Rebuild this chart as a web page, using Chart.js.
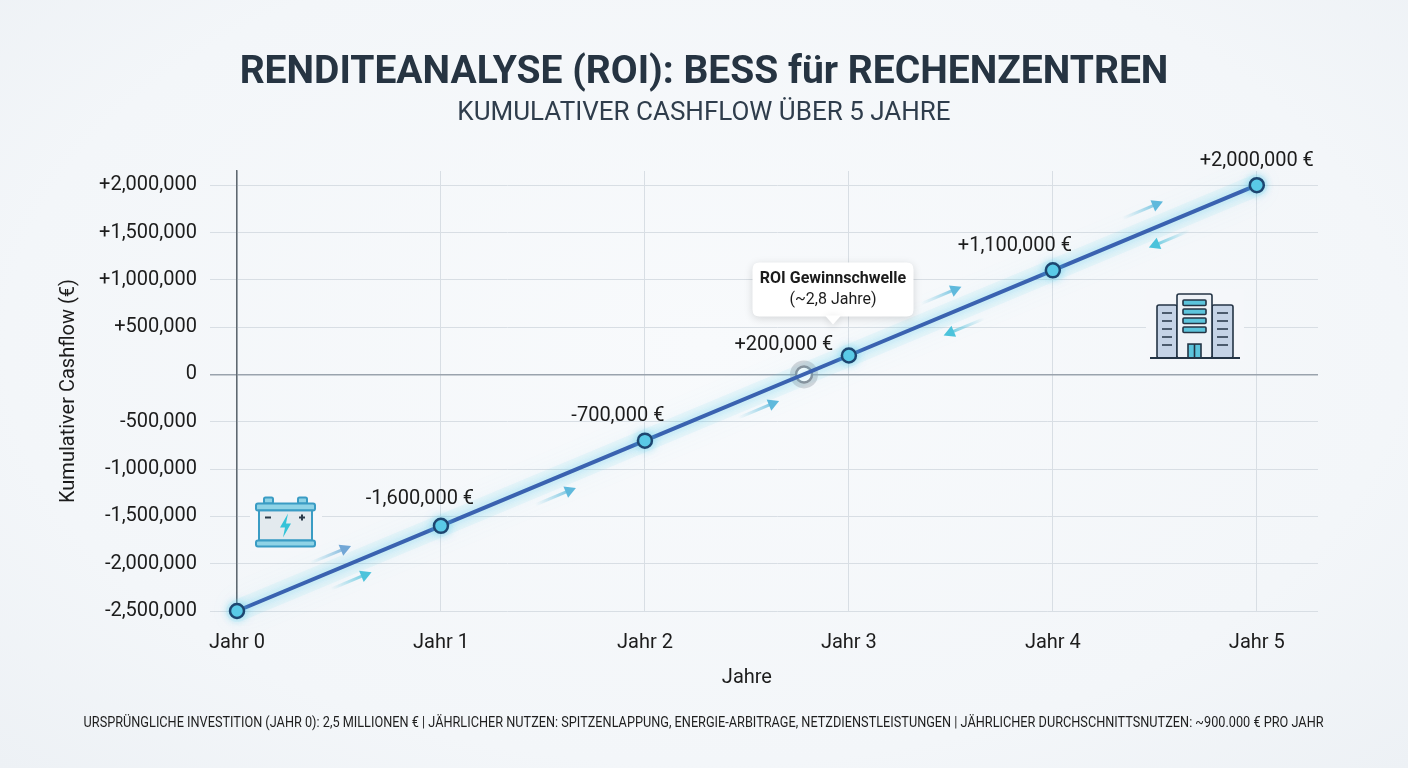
<!DOCTYPE html>
<html>
<head>
<meta charset="utf-8">
<script src="https://cdn.jsdelivr.net/npm/chart.js@4.4.1/dist/chart.umd.min.js"></script>
<style>
  html, body { margin: 0; padding: 0; }
  body {
    width: 1408px; height: 768px; overflow: hidden;
    background: radial-gradient(ellipse at 50% 45%, #f8fafc 0%, #f3f6f9 70%, #edf1f5 100%);
    font-family: Roboto, "Noto Sans", sans-serif;
    position: relative;
  }
  #wrap { position: absolute; left: 0; top: 0; width: 1408px; height: 768px; }
  .head {
    position: absolute; left: 0; width: 1408px; text-align: center; white-space: nowrap;
  }
  #title { top: 46px; font-size: 39px; font-weight: bold; color: #263442; line-height: 48px; }
  #subtitle { top: 95px; font-size: 26px; color: #2f3d4c; line-height: 32px; }
  #footer {
    position: absolute; left: 0; width: 1408px; top: 714px;
    text-align: center; white-space: nowrap;
    font-size: 14px; color: #1e1e1e;
  }
  #footer span { display: inline-block; transform-origin: center; }
</style>
</head>
<body>
<div id="wrap"><canvas id="myChart" width="1408" height="768"></canvas></div>
<div class="head" id="title">RENDITEANALYSE (ROI): BESS für RECHENZENTREN</div>
<div class="head" id="subtitle">KUMULATIVER CASHFLOW ÜBER 5 JAHRE</div>
<div id="footer"><span id="footText">URSPRÜNGLICHE INVESTITION (JAHR 0): 2,5 MILLIONEN € | JÄHRLICHER NUTZEN: SPITZENLAPPUNG, ENERGIE-ARBITRAGE, NETZDIENSTLEISTUNGEN | JÄHRLICHER DURCHSCHNITTSNUTZEN: ~900.000 € PRO JAHR</span></div>
<script>
// values
const years = [0, 1, 2, 3, 4, 5];
const cashflow = [-2500000, -1600000, -700000, 200000, 1100000, 2000000];
const pointLabels = ['', '-1,600,000 €', '-700,000 €', '+200,000 €', '+1,100,000 €', '+2,000,000 €'];
const breakEven = { x: 2.78, y: 0 };
const breakEvenText = ['ROI Gewinnschwelle', '(~2,8 Jahre)'];
const yTicks = [-2500000, -2000000, -1500000, -1000000, -500000, 0, 500000, 1000000, 1500000, 2000000];
const xTitle = 'Jahre';

// label offsets in px (style only)
const labelOffsets = [[0, 0], [-21, -27], [-27, -25], [-65, -11], [-38, -24], [0, -24]];

// decorative arrows along the line: t = year, off = px perpendicular (neg = above), dir
const arrows = [
    { t: 0.49, off: -16, dir: 1, color: '#72a7d6' },
    { t: 0.53, off: 16, dir: 1, color: '#4cc3db' },
    { t: 1.53, off: 17, dir: 1, color: '#5fb9dc' },
    { t: 2.53, off: 15, dir: 1, color: '#5fb9dc' },
    { t: 3.49, off: -20, dir: 1, color: '#5fb9dc' },
    { t: 3.53, off: 18, dir: -1, color: '#4cc3db' },
    { t: 4.48, off: -21, dir: 1, color: '#5fb9dc' },
    { t: 4.54, off: 16, dir: -1, color: '#4cc3db' }
];

const points = years.map((x, i) => ({ x: x, y: cashflow[i] }));

function fmt(v){
    const s = Math.abs(v).toLocaleString('en-US');
    if(v > 0) return '+' + s;
    if(v < 0) return '-' + s;
    return '0';
}

function yAt(t){
    // value on the drawn line at year t (for decoration only)
    const i = Math.min(Math.floor(t), years.length - 2);
    const f = t - years[i];
    return cashflow[i] + (cashflow[i + 1] - cashflow[i]) * f;
}

function roundRect(ctx, x, y, w, h, r){
    ctx.beginPath();
    ctx.moveTo(x + r, y);
    ctx.lineTo(x + w - r, y);
    ctx.quadraticCurveTo(x + w, y, x + w, y + r);
    ctx.lineTo(x + w, y + h - r);
    ctx.quadraticCurveTo(x + w, y + h, x + w - r, y + h);
    ctx.lineTo(x + r, y + h);
    ctx.quadraticCurveTo(x, y + h, x, y + h - r);
    ctx.lineTo(x, y + r);
    ctx.quadraticCurveTo(x, y, x + r, y);
    ctx.closePath();
}

function drawBattery(ctx, x, y){
    ctx.save();
    ctx.fillStyle = '#f5f7fa';
    ctx.fillRect(x - 6, y - 4, 72, 58);
    ctx.strokeStyle = '#3a9cc4';
    ctx.lineWidth = 2;
    ctx.fillStyle = '#8fd3e6';
    roundRect(ctx, x + 8, y, 9, 6, 1.5); ctx.fill(); ctx.stroke();
    roundRect(ctx, x + 42, y, 9, 6, 1.5); ctx.fill(); ctx.stroke();
    roundRect(ctx, x, y + 6, 59, 7, 2); ctx.fill(); ctx.stroke();
    ctx.fillStyle = '#e3eaee';
    ctx.fillRect(x + 3, y + 13, 53, 30);
    ctx.strokeRect(x + 3, y + 13, 53, 30);
    ctx.fillStyle = '#8fd3e6';
    roundRect(ctx, x, y + 43, 59, 6, 2); ctx.fill(); ctx.stroke();
    ctx.strokeStyle = '#2b3a48';
    ctx.lineWidth = 2;
    ctx.beginPath();
    ctx.moveTo(x + 9, y + 20); ctx.lineTo(x + 15, y + 20);
    ctx.moveTo(x + 43, y + 20); ctx.lineTo(x + 49, y + 20);
    ctx.moveTo(x + 46, y + 17); ctx.lineTo(x + 46, y + 23);
    ctx.stroke();
    ctx.fillStyle = '#34c3d8';
    ctx.beginPath();
    ctx.moveTo(x + 32, y + 16);
    ctx.lineTo(x + 24, y + 30);
    ctx.lineTo(x + 29, y + 30);
    ctx.lineTo(x + 27, y + 40);
    ctx.lineTo(x + 35, y + 26);
    ctx.lineTo(x + 30, y + 26);
    ctx.closePath();
    ctx.fill();
    ctx.restore();
}

function drawBuilding(ctx, x, y){
    ctx.save();
    ctx.fillStyle = '#f5f7fa';
    ctx.fillRect(x - 4, y - 4, 98, 72);
    ctx.strokeStyle = '#243445';
    ctx.lineWidth = 1.6;
    ctx.fillStyle = '#c5d3e6';
    roundRect(ctx, x + 7, y + 12, 20, 53, 2); ctx.fill(); ctx.stroke();
    roundRect(ctx, x + 62, y + 12, 21, 53, 2); ctx.fill(); ctx.stroke();
    ctx.fillStyle = '#eef2f7';
    roundRect(ctx, x + 27, y + 1, 35, 64, 2); ctx.fill(); ctx.stroke();
    ctx.fillStyle = '#5cc4dc';
    for(let i = 0; i < 4; i++){
        roundRect(ctx, x + 33, y + 7 + i * 9, 23, 5.5, 1); ctx.fill(); ctx.stroke();
    }
    ctx.beginPath();
    for(let i = 0; i < 5; i++){
        ctx.moveTo(x + 12, y + 20 + i * 8); ctx.lineTo(x + 22, y + 20 + i * 8);
        ctx.moveTo(x + 67, y + 20 + i * 8); ctx.lineTo(x + 78, y + 20 + i * 8);
    }
    ctx.stroke();
    ctx.fillStyle = '#5cc4dc';
    ctx.fillRect(x + 38, y + 51, 13, 14);
    ctx.strokeRect(x + 38, y + 51, 13, 14);
    ctx.beginPath(); ctx.moveTo(x + 44.5, y + 51); ctx.lineTo(x + 44.5, y + 65); ctx.stroke();
    ctx.lineWidth = 2;
    ctx.beginPath(); ctx.moveTo(x, y + 65); ctx.lineTo(x + 90, y + 65); ctx.stroke();
    ctx.restore();
}

const decoPlugin = {
    id: 'deco',
    beforeDatasetsDraw(chart){
        const ctx = chart.ctx;
        const xs = chart.scales.x, ys = chart.scales.y;
        const area = chart.chartArea;
        drawBattery(ctx, area.left + 19, ys.getPixelForValue(-1300000));
        drawBuilding(ctx, area.right - 168, ys.getPixelForValue(860000));
        // soft glow along the line
        ctx.save();
        ctx.strokeStyle = 'rgba(120,215,235,0.10)';
        ctx.lineWidth = 22;
        ctx.lineCap = 'round';
        ctx.shadowColor = 'rgba(100,210,235,0.45)';
        ctx.shadowBlur = 26;
        ctx.beginPath();
        points.forEach((p, i) => {
            const px = xs.getPixelForValue(p.x), py = ys.getPixelForValue(p.y);
            if(i === 0) ctx.moveTo(px, py); else ctx.lineTo(px, py);
        });
        ctx.stroke();
        ctx.restore();
        // arrows
        const dx = xs.getPixelForValue(1) - xs.getPixelForValue(0);
        const dy = ys.getPixelForValue(yAt(1)) - ys.getPixelForValue(yAt(0));
        const len = Math.hypot(dx, dy);
        const ux = dx / len, uy = dy / len;
        const nx = -uy, ny = ux; // points down-right
        arrows.forEach(a => {
            const cx = xs.getPixelForValue(a.t) + nx * a.off;
            const cy = ys.getPixelForValue(yAt(a.t)) + ny * a.off;
            const hx = cx + ux * 22 * a.dir, hy = cy + uy * 22 * a.dir;
            const tx = cx - ux * 22 * a.dir, ty = cy - uy * 22 * a.dir;
            const g = ctx.createLinearGradient(tx, ty, hx, hy);
            g.addColorStop(0, 'rgba(120,200,225,0)');
            g.addColorStop(1, a.color);
            ctx.save();
            ctx.strokeStyle = g;
            ctx.lineWidth = 3;
            ctx.beginPath(); ctx.moveTo(tx, ty); ctx.lineTo(hx - ux * 6 * a.dir, hy - uy * 6 * a.dir); ctx.stroke();
            ctx.fillStyle = a.color;
            ctx.beginPath();
            ctx.moveTo(hx, hy);
            ctx.lineTo(hx - ux * 11 * a.dir + nx * 6, hy - uy * 11 * a.dir + ny * 6);
            ctx.lineTo(hx - ux * 11 * a.dir - nx * 6, hy - uy * 11 * a.dir - ny * 6);
            ctx.closePath();
            ctx.fill();
            ctx.restore();
        });
        // halo around break-even point
        const bx = xs.getPixelForValue(breakEven.x), by = ys.getPixelForValue(breakEven.y);
        ctx.save();
        ctx.fillStyle = 'rgba(160,168,178,0.45)';
        ctx.beginPath(); ctx.arc(bx, by, 14, 0, Math.PI * 2); ctx.fill();
        ctx.restore();
    },
    beforeDatasetDraw(chart, args){
        if(args.index === 0){
            chart.ctx.save();
            chart.ctx.shadowColor = 'rgba(80,200,235,0.6)';
            chart.ctx.shadowBlur = 10;
        }
    },
    afterDatasetDraw(chart, args){
        if(args.index === 0) chart.ctx.restore();
    },
    afterDatasetsDraw(chart){
        const ctx = chart.ctx;
        const meta = chart.getDatasetMeta(0);
        const xs = chart.scales.x, ys = chart.scales.y;
        ctx.save();
        ctx.font = '20px Roboto';
        ctx.fillStyle = '#1c1c1c';
        ctx.textAlign = 'center';
        ctx.textBaseline = 'middle';
        meta.data.forEach((el, i) => {
            if(!pointLabels[i]) return;
            ctx.fillText(pointLabels[i], el.x + labelOffsets[i][0], el.y + labelOffsets[i][1]);
        });
        // x axis title, centred under the year ticks
        ctx.fillText(xTitle, (xs.getPixelForValue(years[0]) + xs.getPixelForValue(years[years.length - 1])) / 2, chart.chartArea.bottom + 67);
        ctx.restore();
        // callout box
        const bx = xs.getPixelForValue(breakEven.x), by = ys.getPixelForValue(breakEven.y);
        const cx = bx + 29, tipY = by - 50;
        const w = 161, h = 54, top = tipY - 8 - h;
        ctx.save();
        ctx.shadowColor = 'rgba(0,0,0,0.15)';
        ctx.shadowBlur = 8;
        ctx.shadowOffsetY = 2;
        ctx.fillStyle = '#ffffff';
        roundRect(ctx, cx - w / 2, top, w, h, 7);
        ctx.fill();
        ctx.beginPath();
        ctx.moveTo(cx - 8, top + h - 1);
        ctx.lineTo(cx, tipY);
        ctx.lineTo(cx + 8, top + h - 1);
        ctx.closePath();
        ctx.fill();
        ctx.restore();
        ctx.save();
        ctx.fillStyle = '#1c1c1c';
        ctx.textAlign = 'center';
        ctx.textBaseline = 'middle';
        ctx.font = 'bold 16px Roboto';
        ctx.fillText(breakEvenText[0], cx, top + 17);
        ctx.font = '16px Roboto';
        ctx.fillText(breakEvenText[1], cx, top + 38);
        ctx.restore();
    }
};

const ctx = document.querySelector('#myChart').getContext('2d');
const myChart = new Chart(ctx, {
    type: 'line',
    data: {
        datasets: [
            {
                data: points,
                borderColor: '#3a62b0',
                borderWidth: 4,
                pointRadius: 7,
                pointBorderWidth: 2.5,
                pointBackgroundColor: '#5ccbe6',
                pointBorderColor: '#1d4670',
                tension: 0,
                clip: false
            },
            {
                data: [breakEven],
                showLine: false,
                pointRadius: 8,
                pointBorderWidth: 2.5,
                pointBackgroundColor: '#ffffff',
                pointBorderColor: '#8a9099',
                clip: false
            }
        ]
    },
    options: {
        responsive: false,
        animation: false,
        events: [],
        layout: {
            padding: { left: 40, right: 90, top: 171, bottom: 75 }
        },
        plugins: {
            legend: { display: false },
            tooltip: { enabled: false }
        },
        scales: {
            x: {
                type: 'linear',
                min: 0,
                max: 5.3,
                afterBuildTicks: axis => { axis.ticks = years.map(v => ({ value: v })); },
                afterFit: axis => { axis.height = 82; },
                grid: {
                    color: '#d8dee4',
                    drawTicks: false
                },
                border: { display: false },
                ticks: {
                    color: '#1c1c1c',
                    padding: 20,
                    font: { family: 'Roboto', size: 20 },
                    callback: v => 'Jahr ' + v
                }
            },
            y: {
                min: -2500000,
                max: 2150000,
                afterBuildTicks: axis => { axis.ticks = yTicks.map(v => ({ value: v })); },
                afterFit: axis => { axis.width = 197; },
                grid: {
                    color: ctx => ctx.tick && ctx.tick.value === 0 ? '#9aa3ad' : '#d8dee4',
                    lineWidth: ctx => ctx.tick && ctx.tick.value === 0 ? 1.5 : 1,
                    tickLength: 27
                },
                border: { color: '#5f6870', width: 1.5 },
                ticks: {
                    color: '#1c1c1c',
                    padding: 13,
                    font: { family: 'Roboto', size: 20 },
                    callback: v => fmt(v)
                },
                title: {
                    display: true,
                    text: 'Kumulativer Cashflow (€)',
                    color: '#1c1c1c',
                    font: { family: 'Roboto', size: 20 },
                    padding: { top: 17, bottom: 4 }
                }
            }
        }
    },
    plugins: [decoPlugin]
});

// squeeze the footer line to the reference width
const foot = document.getElementById('footText');
foot.style.transform = 'scaleX(' + (1240 / foot.getBoundingClientRect().width) + ')';
</script>
</body>
</html>
